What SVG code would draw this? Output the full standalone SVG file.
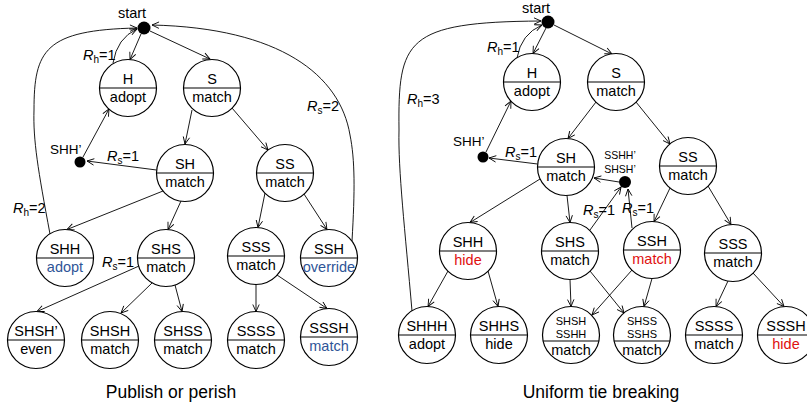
<svg xmlns="http://www.w3.org/2000/svg" width="807" height="410" viewBox="0 0 807 410">
  <defs>
    <marker id="arr" markerUnits="userSpaceOnUse" markerWidth="12" markerHeight="10" viewBox="-9 -5 10 10" refX="0" refY="0" orient="auto">
      <path d="M -7 -3.2 L 0 0 L -7 3.2" fill="none" stroke="#000" stroke-width="0.9"/>
    </marker>
  </defs>
  <style>
    text { font-family: "Liberation Sans", Arial, sans-serif; fill: #000; }
    .node circle { fill: #fff; stroke: #000; stroke-width: 1.2; }
    .node line { stroke: #000; stroke-width: 1.2; }
    .t { font-size: 14.5px; text-anchor: middle; }
    .s { font-size: 11px; text-anchor: middle; }
    .blue { fill: #2f5597; }
    .red { fill: #e01010; }
    .edges path, .edges line { fill: none; stroke: #000; stroke-width: 0.9; marker-end: url(#arr); }
    .dot { fill: #000; }
    .lbl { font-size: 14.5px; }
    .sub { font-size: 10px; }
    .cap { font-size: 17.5px; text-anchor: middle; }
  </style>

  <!-- ===== Left tree: publish or perish ===== -->
  <g class="edges" id="edges-left">
    <line x1="141" y1="34" x2="130" y2="59.5"/>
    <path d="M 113 63 Q 117 38 137 29"/>
    <line x1="150" y1="31" x2="210" y2="59"/>
    <path d="M 352 241 C 355 190 355 160 350 135 C 340 75 280 28 152 25"/>
    <path d="M 50 234 C 38 170 33 140 34 110 C 34 50 45 30 137 28"/>
    <line x1="83" y1="157" x2="109" y2="109"/>
    <line x1="156.5" y1="170" x2="87" y2="161"/>
    <line x1="192" y1="110" x2="185" y2="144"/>
    <line x1="232" y1="108" x2="268" y2="150"/>
    <line x1="163" y1="191" x2="67" y2="229.5"/>
    <line x1="181" y1="201" x2="168" y2="229.5"/>
    <line x1="265" y1="193" x2="258" y2="227.5"/>
    <line x1="304" y1="194" x2="327" y2="229.5"/>
    <line x1="139" y1="266" x2="37" y2="311.5"/>
    <line x1="152" y1="283" x2="121" y2="313"/>
    <line x1="175" y1="285" x2="182" y2="311.5"/>
    <line x1="256" y1="284.5" x2="256" y2="311.5"/>
    <line x1="277" y1="275" x2="327" y2="308.5"/>
  </g>

  <g id="start-left">
    <circle class="dot" cx="144" cy="28" r="6.5"/>
    <text class="lbl" x="132" y="18" text-anchor="middle">start</text>
  </g>
  <g id="shh-prime-left">
    <circle class="dot" cx="80" cy="162" r="5.5"/>
    <text x="50" y="154" font-size="13.5">SHH’</text>
  </g>

  <g id="edge-labels-left">
    <text class="lbl" x="83" y="60"><tspan font-style="italic">R</tspan><tspan class="sub" dy="3">h</tspan><tspan dy="-3">=1</tspan></text>
    <text class="lbl" x="307" y="111"><tspan font-style="italic">R</tspan><tspan class="sub" dy="3">s</tspan><tspan dy="-3">=2</tspan></text>
    <text class="lbl" x="13" y="213"><tspan font-style="italic">R</tspan><tspan class="sub" dy="3">h</tspan><tspan dy="-3">=2</tspan></text>
    <text class="lbl" x="107" y="161"><tspan font-style="italic">R</tspan><tspan class="sub" dy="3">s</tspan><tspan dy="-3">=1</tspan></text>
    <text class="lbl" x="102" y="267"><tspan font-style="italic">R</tspan><tspan class="sub" dy="3">s</tspan><tspan dy="-3">=1</tspan></text>
  </g>

  <g class="node" id="L-H"><circle cx="128" cy="88" r="28.5"/><line x1="99.5" y1="88" x2="156.5" y2="88"/><text class="t" x="128" y="84">H</text><text class="t" x="128" y="102">adopt</text></g>
  <g class="node" id="L-S"><circle cx="212" cy="88" r="28.5"/><line x1="183.5" y1="88" x2="240.5" y2="88"/><text class="t" x="212" y="84">S</text><text class="t" x="212" y="102">match</text></g>
  <g class="node" id="L-SH"><circle cx="185" cy="173" r="28.5"/><line x1="156.5" y1="173" x2="213.5" y2="173"/><text class="t" x="185" y="169">SH</text><text class="t" x="185" y="187">match</text></g>
  <g class="node" id="L-SS"><circle cx="285" cy="173" r="28.5"/><line x1="256.5" y1="173" x2="313.5" y2="173"/><text class="t" x="285" y="169">SS</text><text class="t" x="285" y="187">match</text></g>
  <g class="node" id="L-SHH"><circle cx="65" cy="258" r="28.5"/><line x1="36.5" y1="258" x2="93.5" y2="258"/><text class="t" x="65" y="254">SHH</text><text class="t blue" x="65" y="272">adopt</text></g>
  <g class="node" id="L-SHS"><circle cx="166" cy="258" r="28.5"/><line x1="137.5" y1="258" x2="194.5" y2="258"/><text class="t" x="166" y="254">SHS</text><text class="t" x="166" y="272">match</text></g>
  <g class="node" id="L-SSS"><circle cx="256" cy="256" r="28.5"/><line x1="227.5" y1="256" x2="284.5" y2="256"/><text class="t" x="256" y="252">SSS</text><text class="t" x="256" y="270">match</text></g>
  <g class="node" id="L-SSH"><circle cx="329" cy="258" r="28.5"/><line x1="300.5" y1="258" x2="357.5" y2="258"/><text class="t" x="329" y="254">SSH</text><text class="t blue" x="329" y="272" font-size="13px">override</text></g>
  <g class="node" id="L-SHSH-prime"><circle cx="36" cy="340" r="28.5"/><line x1="7.5" y1="340" x2="64.5" y2="340"/><text class="t" x="36" y="336">SHSH’</text><text class="t" x="36" y="354">even</text></g>
  <g class="node" id="L-SHSH"><circle cx="110" cy="340" r="28.5"/><line x1="81.5" y1="340" x2="138.5" y2="340"/><text class="t" x="110" y="336">SHSH</text><text class="t" x="110" y="354">match</text></g>
  <g class="node" id="L-SHSS"><circle cx="183" cy="340" r="28.5"/><line x1="154.5" y1="340" x2="211.5" y2="340"/><text class="t" x="183" y="336">SHSS</text><text class="t" x="183" y="354">match</text></g>
  <g class="node" id="L-SSSS"><circle cx="256" cy="340" r="28.5"/><line x1="227.5" y1="340" x2="284.5" y2="340"/><text class="t" x="256" y="336">SSSS</text><text class="t" x="256" y="354">match</text></g>
  <g class="node" id="L-SSSH"><circle cx="329" cy="337" r="28.5"/><line x1="300.5" y1="337" x2="357.5" y2="337"/><text class="t" x="329" y="333">SSSH</text><text class="t blue" x="329" y="351">match</text></g>

  <text class="cap" x="171" y="398">Publish or perish</text>

  <!-- ===== Right tree: uniform tie breaking ===== -->
  <g class="edges" id="edges-right">
    <line x1="546" y1="28" x2="533" y2="53.5"/>
    <path d="M 517 58 Q 521 34 542 25"/>
    <line x1="554" y1="25" x2="612" y2="54"/>
    <path d="M 412 311 C 405 230 398 170 399 130 C 398 40 405 22 541 21"/>
    <line x1="486" y1="152" x2="511" y2="101"/>
    <line x1="537.5" y1="164" x2="489" y2="158"/>
    <line x1="596" y1="102" x2="568" y2="138.5"/>
    <line x1="636" y1="102" x2="670" y2="144"/>
    <line x1="540" y1="179" x2="470" y2="222.5"/>
    <line x1="567" y1="195.5" x2="570" y2="222.5"/>
    <line x1="590" y1="230" x2="621" y2="187"/>
    <line x1="632" y1="228" x2="628" y2="189"/>
    <line x1="619" y1="182" x2="594" y2="178"/>
    <line x1="670" y1="188" x2="654" y2="221.5"/>
    <line x1="708" y1="186" x2="731" y2="224.5"/>
    <line x1="448" y1="271" x2="428" y2="306.5"/>
    <line x1="488" y1="271" x2="498" y2="306.5"/>
    <line x1="570" y1="279.5" x2="571" y2="306.5"/>
    <line x1="590" y1="271" x2="624" y2="313"/>
    <line x1="632" y1="270" x2="592" y2="315"/>
    <line x1="652" y1="278.5" x2="644" y2="306.5"/>
    <line x1="728" y1="281" x2="716" y2="306.5"/>
    <line x1="753" y1="273" x2="784" y2="306.5"/>
  </g>

  <g id="start-right">
    <circle class="dot" cx="548" cy="22" r="6.5"/>
    <text class="lbl" x="536" y="13" text-anchor="middle">start</text>
  </g>
  <g id="shh-prime-right">
    <circle class="dot" cx="483" cy="157" r="5.5"/>
    <text x="453" y="146" font-size="13.5">SHH’</text>
  </g>
  <g id="sshh-shsh-prime">
    <circle class="dot" cx="625" cy="182" r="6"/>
    <text x="620" y="159" font-size="10.5" text-anchor="middle">SSHH’</text>
    <text x="620" y="173" font-size="10.5" text-anchor="middle">SHSH’</text>
  </g>

  <g id="edge-labels-right">
    <text class="lbl" x="487" y="52"><tspan font-style="italic">R</tspan><tspan class="sub" dy="3">h</tspan><tspan dy="-3">=1</tspan></text>
    <text class="lbl" x="407" y="104"><tspan font-style="italic">R</tspan><tspan class="sub" dy="3">h</tspan><tspan dy="-3">=3</tspan></text>
    <text class="lbl" x="505" y="157"><tspan font-style="italic">R</tspan><tspan class="sub" dy="3">s</tspan><tspan dy="-3">=1</tspan></text>
    <text class="lbl" x="583" y="215"><tspan font-style="italic">R</tspan><tspan class="sub" dy="3">s</tspan><tspan dy="-3">=1</tspan></text>
    <text class="lbl" x="622" y="213"><tspan font-style="italic">R</tspan><tspan class="sub" dy="3">s</tspan><tspan dy="-3">=1</tspan></text>
  </g>

  <g class="node" id="R-H"><circle cx="532" cy="82" r="28.5"/><line x1="503.5" y1="82" x2="560.5" y2="82"/><text class="t" x="532" y="78">H</text><text class="t" x="532" y="96">adopt</text></g>
  <g class="node" id="R-S"><circle cx="616" cy="82" r="28.5"/><line x1="587.5" y1="82" x2="644.5" y2="82"/><text class="t" x="616" y="78">S</text><text class="t" x="616" y="96">match</text></g>
  <g class="node" id="R-SH"><circle cx="566" cy="167" r="28.5"/><line x1="537.5" y1="167" x2="594.5" y2="167"/><text class="t" x="566" y="163">SH</text><text class="t" x="566" y="181">match</text></g>
  <g class="node" id="R-SS"><circle cx="688" cy="166" r="28.5"/><line x1="659.5" y1="166" x2="716.5" y2="166"/><text class="t" x="688" y="162">SS</text><text class="t" x="688" y="180">match</text></g>
  <g class="node" id="R-SHH"><circle cx="468" cy="251" r="28.5"/><line x1="439.5" y1="251" x2="496.5" y2="251"/><text class="t" x="468" y="247">SHH</text><text class="t red" x="468" y="265">hide</text></g>
  <g class="node" id="R-SHS"><circle cx="570" cy="251" r="28.5"/><line x1="541.5" y1="251" x2="598.5" y2="251"/><text class="t" x="570" y="247">SHS</text><text class="t" x="570" y="265">match</text></g>
  <g class="node" id="R-SSH"><circle cx="652" cy="250" r="28.5"/><line x1="623.5" y1="250" x2="680.5" y2="250"/><text class="t" x="652" y="246">SSH</text><text class="t red" x="652" y="264">match</text></g>
  <g class="node" id="R-SSS"><circle cx="733" cy="253" r="28.5"/><line x1="704.5" y1="253" x2="761.5" y2="253"/><text class="t" x="733" y="249">SSS</text><text class="t" x="733" y="267">match</text></g>
  <g class="node" id="R-SHHH"><circle cx="427" cy="335" r="28.5"/><line x1="398.5" y1="335" x2="455.5" y2="335"/><text class="t" x="427" y="331">SHHH</text><text class="t" x="427" y="349">adopt</text></g>
  <g class="node" id="R-SHHS"><circle cx="499" cy="335" r="28.5"/><line x1="470.5" y1="335" x2="527.5" y2="335"/><text class="t" x="499" y="331">SHHS</text><text class="t" x="499" y="349">hide</text></g>
  <g class="node" id="R-SHSH-SSHH"><circle cx="571" cy="335" r="28.5"/><line x1="543" y1="341" x2="599" y2="341"/><text class="s" x="571" y="325">SHSH</text><text class="s" x="571" y="338">SSHH</text><text class="t" x="571" y="355">match</text></g>
  <g class="node" id="R-SHSS-SSHS"><circle cx="642" cy="335" r="28.5"/><line x1="614" y1="341" x2="670" y2="341"/><text class="s" x="642" y="325">SHSS</text><text class="s" x="642" y="338">SSHS</text><text class="t" x="642" y="355">match</text></g>
  <g class="node" id="R-SSSS"><circle cx="714" cy="335" r="28.5"/><line x1="685.5" y1="335" x2="742.5" y2="335"/><text class="t" x="714" y="331">SSSS</text><text class="t" x="714" y="349">match</text></g>
  <g class="node" id="R-SSSH"><circle cx="786" cy="335" r="28.5"/><line x1="757.5" y1="335" x2="814.5" y2="335"/><text class="t" x="786" y="331">SSSH</text><text class="t red" x="786" y="349">hide</text></g>

  <text class="cap" x="601" y="398">Uniform tie breaking</text>
</svg>
